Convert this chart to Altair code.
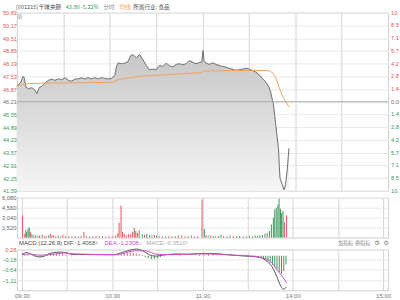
import altair as alt
import pandas as pd

# ---------------- data ----------------
PRE_CLOSE = 46.21
PRICE_TICKS = [50.83, 50.17, 49.51, 48.85, 48.19, 47.53, 46.87, 46.21,
               45.55, 44.89, 44.23, 43.57, 42.91, 42.25, 41.59]
PCT_TICKS = [10.0, 8.57, 7.14, 5.71, 4.28, 2.86, 1.43, 0.0,
             -1.43, -2.86, -4.28, -5.71, -7.14, -8.57, -10.0]
VOL_TICKS = [1520, 3040, 4560, 6080]
MACD_TICKS = [0.28, -0.18, -0.64, -1.11]
GRID_MIN = [0, 30, 60, 90, 120, 150, 180, 210, 240]
TIME_TICKS = [0, 60, 120, 180, 240]
TIME_LABELS = ["09:30", "10:30", "11:30", "14:00", "15:00"]

PRICE_MIN = [0, 2.6, 3.9, 4.7, 5.8, 7.5, 9.7, 11.8, 12.9, 14.4,
             16.1, 18.2, 20.4, 22.5, 24.6, 26.8, 29, 31.1, 33.3, 35.4,
             37.5, 39.7, 41.8, 44, 46.1, 48.3, 50.4, 52.6, 54.7, 56.8,
             59, 61.1, 63.3, 64.3, 65.4, 67.6, 69.7, 71.9, 73.6, 75.1,
             77.2, 79.3, 81.5, 83.7, 85.8, 88, 90.1, 92.2, 94.4, 96.5,
             98.6, 100.8, 103, 105.1, 107.3, 109.4, 111.5, 113.7, 115.8, 118,
             119.5, 120.3, 121, 122.3, 124.4, 126.6, 128.7, 130.8, 133, 135.1,
             137.3, 139.4, 141.6, 143.7, 145.9, 148, 150.1, 152.3, 154.4, 156.6,
             158.8, 160.9, 163, 164.1, 165.2, 165.8, 166.7, 168, 169.2, 169.7,
             170.1, 171.6, 172.7, 173.7, 174.8, 175.9]
PRICE_VAL = [47.01, 47.23, 47.53, 47.46, 46.97, 46.89, 46.94, 46.80, 46.63, 46.94,
             47.01, 47.18, 47.32, 47.39, 47.32, 47.40, 47.35, 47.46, 47.32, 47.28,
             47.39, 47.39, 47.46, 47.39, 47.46, 47.39, 47.46, 47.39, 47.46, 47.42,
             47.39, 47.42, 47.58, 48.01, 48.23, 48.18, 48.21, 48.30, 48.61, 48.66,
             48.49, 48.66, 48.39, 48.09, 47.87, 47.90, 47.87, 48.09, 48.04, 48.21,
             48.08, 48.01, 48.15, 48.18, 48.13, 48.18, 48.35, 48.26, 48.18, 48.25,
             48.26, 48.87, 48.35, 48.21, 48.15, 48.23, 48.15, 48.09, 48.04, 48.01,
             47.94, 47.90, 47.84, 47.87, 47.90, 47.95, 47.90, 47.84, 47.75, 47.63,
             47.41, 47.23, 46.97, 46.72, 46.29, 46.12, 45.51, 44.57, 43.71, 42.84,
             42.25, 41.90, 41.64, 41.90, 42.67, 43.80]

AVG_MIN = [0, 3, 8, 15, 30, 45, 62, 63.5, 66, 72, 80, 90, 100, 110, 119.5,
           120.5, 140, 155, 163, 165.5, 167.5, 169.5, 172, 174, 176]
AVG_VAL = [47.01, 47.10, 47.15, 47.17, 47.19, 47.20, 47.22, 47.30, 47.37, 47.45,
           47.53, 47.58, 47.63, 47.68, 47.72, 47.80, 47.83, 47.84, 47.82, 47.70,
           47.45, 46.97, 46.46, 46.20, 45.94]

VOL_MIN = [0.4, 1.9, 2.6, 3.2, 4.1, 4.9, 5.8, 6.7, 7.9, 9.2,
           10.7, 11.8, 13.5, 15, 16.1, 17.8, 18.9, 20, 21, 22.5,
           24.2, 25.7, 27.2, 28.9, 31.1, 33.2, 35.4, 37.5, 39.3, 41.2,
           42.9, 45.1, 47.2, 49.3, 51.5, 53.6, 55.8, 57.9, 60.1, 62.2,
           63.7, 64.6, 65.9, 66.9, 68, 69.3, 70.8, 72.3, 73.6, 74.7,
           75.7, 76.8, 77.9, 80, 81.5, 83, 84.7, 86.4, 88, 89.5,
           91.2, 93.3, 95.5, 97.6, 99.8, 101.9, 104, 106.2, 108.3, 110.5,
           112.6, 114.8, 116.9, 119.7, 121.2, 122.3, 123.8, 125.5, 127.2, 128.7,
           130.8, 132.3, 134, 136.2, 138.3, 140.5, 142.6, 144.7, 146.9, 149,
           151.2, 153.3, 155, 156.6, 158.1, 159.8, 161.5, 163, 164.5, 165.8,
           167.1, 168, 169, 170.1, 170.9, 171.8, 172.6, 173.5, 174.4, 175.9]
VOL_VAL = [3390, 600, 1150, 900, 1370, 1520, 800, 500, 300, 350,
           250, 300, 450, 250, 200, 300, 600, 350, 300, 250,
           300, 200, 450, 250, 200, 200, 250, 200, 250, 850,
           200, 200, 200, 250, 200, 250, 200, 250, 200, 300,
           700, 2280, 4900, 900, 600, 400, 500, 600, 900, 1450,
           1000, 700, 1100, 500, 400, 600, 400, 300, 400, 300,
           250, 200, 200, 250, 200, 200, 350, 300, 200, 250,
           300, 200, 250, 5820, 1300, 400, 300, 300, 250, 200,
           250, 400, 250, 200, 300, 250, 200, 250, 200, 200,
           250, 200, 300, 250, 350, 400, 600, 700, 1000, 2000,
           3040, 4300, 4560, 5060, 5930, 4400, 3800, 4100, 2370, 3390]
VOL_DIR = list("uuudddudud" "uduuuduuuu" "duuuduuduu" "uduuuduuuu" "uuuuuuuuuu"
               "duududduud" "uuduuduuud" "uuuudududu" "ddudduddud" "dudddddddd"
               "dddddddduu")

DIF_MIN = [0, 3.2, 7.5, 11.8, 15, 18.2, 24.7, 29, 33.3, 46,
           61, 65.4, 71.9, 76.1, 80.4, 84.7, 89, 93.3, 101.9, 110.5,
           119, 125.5, 140.5, 151.2, 157.7, 162, 166.2, 169.4, 171.6, 173.7, 175.9]
DIF_VAL = [0.06, 0.14, 0.02, -0.06, -0.02, 0.10, 0.16, 0.14, 0.06, 0.05,
           0.04, 0.12, 0.25, 0.30, 0.22, 0.04, -0.02, 0.02, 0.08, 0.06,
           0.10, 0.10, 0.02, -0.03, -0.07, -0.22, -0.50, -0.95, -1.32, -1.52, -1.41]
DEA_MIN = [0, 5, 12, 20, 28, 35, 60, 66, 75, 82,
           90, 100, 120, 140, 157, 162, 166, 170, 173.7, 175.9]
DEA_VAL = [0.04, 0.08, 0.02, 0.06, 0.12, 0.08, 0.05, 0.08, 0.22, 0.22,
           0.06, 0.05, 0.08, 0.03, -0.05, -0.15, -0.32, -0.68, -1.00, -1.23]
HIST_MIN = [2, 4, 8, 10, 12, 14, 17, 19, 21, 23,
            25, 27, 29, 31, 33, 36, 40, 45, 50, 55,
            62, 64, 66, 68, 70, 72, 74, 76, 78, 80,
            82, 84, 86, 88, 90, 92, 95, 100, 105, 110,
            115, 118, 121, 124, 127, 130, 135, 140, 145, 150,
            153, 155, 157, 159, 160.5, 162, 163.5, 165, 166.5, 168,
            169.5, 171, 172.5, 174, 175.5]
HIST_VAL = [0.03, 0.05, -0.04, -0.06, -0.06, -0.04, 0.04, 0.07, 0.08, 0.08,
            0.07, 0.06, 0.04, -0.02, -0.03, -0.02, 0.02, -0.01, 0.01, -0.01,
            0.02, 0.05, 0.08, 0.10, 0.12, 0.13, 0.12, 0.10, 0.07, 0.03,
            -0.06, -0.12, -0.16, -0.15, -0.12, -0.07, -0.03, 0.02, 0.03, 0.01,
            0.02, 0.03, 0.04, 0.05, 0.04, 0.02, -0.01, -0.02, -0.02, -0.03,
            -0.04, -0.06, -0.08, -0.10, -0.14, -0.19, -0.25, -0.32, -0.42, -0.52,
            -0.62, -0.74, -0.82, -0.70, -0.40]

# ---------------- style ----------------
RED = "#e0575b"
GREEN = "#3a9a5c"
ORANGE = "#f0a261"
LBL = "#6f6f6f"
CJK = "Noto Sans CJK SC"
W = 373

price_df = pd.DataFrame({"m": PRICE_MIN, "p": PRICE_VAL})
avg_df = pd.DataFrame({"m": AVG_MIN, "a": AVG_VAL})
vol_df = pd.DataFrame({"m": VOL_MIN, "v": VOL_VAL, "d": VOL_DIR})
dif_df = pd.DataFrame({"m": DIF_MIN, "v": DIF_VAL})
dea_df = pd.DataFrame({"m": DEA_MIN, "v": DEA_VAL})
hist_df = pd.DataFrame({"m": HIST_MIN, "h": HIST_VAL})
pct_df = pd.DataFrame({"t": PCT_TICKS})

xscale = alt.Scale(domain=[0, 240], nice=False, zero=False)
xgrid_axis = alt.Axis(values=GRID_MIN, labels=False, ticks=False, domain=False,
                      grid=True, gridColor="#d4d4d4", title=None)
NOVIEW = alt.ViewBackground(stroke=None, fill=None)


def X(axis=xgrid_axis):
    return alt.X("m:Q", scale=xscale, axis=axis)


def one():
    return alt.Chart(alt.Data(values=[{"k": 0}]))


def note(s, x, y, color, size=5.6, font=CJK, align="left"):
    return one().mark_text(text=s, x=x, y=y, align=align, baseline="middle",
                           color=color, fontSize=size, font=font)


# ---- header strip ----
header = alt.layer(
    note("[001215]", -1, 6, "#555555"),
    note("千味央厨", 22, 6, "#444444"),
    note("43.80  -5.22%", 49, 6, GREEN),
    note("分时", 87, 6, "#888888"),
    note("均线", 103, 6, ORANGE),
    note("所属行业: 食品", 117, 6, "#555555"),
).properties(width=W, height=12, view=NOVIEW)

# ---- price panel ----
pscale = alt.Scale(domain=[41.59, 50.83], nice=False, zero=False)
pax = alt.Axis(values=PRICE_TICKS, format=".2f", grid=True, title=None,
               gridColor="#e8e8e8", labelFontSize=5.6, labelPadding=0.5,
               labelColor={"condition": [
                   {"test": "datum.value > 46.22", "value": RED},
                   {"test": "datum.value < 46.2", "value": GREEN}],
                   "value": LBL})
area = alt.Chart(price_df).mark_area(
    color=alt.Gradient(gradient="linear",
                       stops=[alt.GradientStop(color="#c6c6c6", offset=0),
                              alt.GradientStop(color="#f5f5f5", offset=1)],
                       x1=1, x2=1, y1=0, y2=1)
).encode(x=X(), y=alt.Y("p:Q", scale=pscale, axis=pax), y2=alt.Y2Datum(41.59))
pline = alt.Chart(price_df).mark_line(color="#6e6e6e", strokeWidth=1).encode(
    x=X(), y=alt.Y("p:Q", scale=pscale, axis=pax))
aline = alt.Chart(avg_df).mark_line(color=ORANGE, strokeWidth=1).encode(
    x=X(), y=alt.Y("a:Q", scale=pscale, axis=pax))
zero_rule = one().mark_rule(color="#a9a9a9", strokeWidth=1).encode(
    y=alt.YDatum(PRE_CLOSE, scale=pscale, axis=pax))
icon = one().mark_point(filled=True, color="#c4c4c4", size=30, x=3, y=4)
price_main = alt.layer(area, pline, aline, zero_rule, icon)

# percentage labels on the right: they run to the page edge and are cut there
pct_text = alt.Chart(pct_df).transform_calculate(
    lab="format(abs(datum.t), '.2f')",
    side="datum.t > 0.001 ? 'up' : (datum.t < -0.001 ? 'down' : 'flat')",
).mark_text(align="left", baseline="middle", font="Liberation Sans", fontSize=5.8,
            x=W + 3, limit=8.3, ellipsis="\u200b").encode(
    y=alt.Y("t:Q", scale=alt.Scale(domain=[-10, 10], nice=False, zero=False), axis=None),
    text="lab:N",
    color=alt.Color("side:N", scale=alt.Scale(domain=["up", "down", "flat"],
                                              range=[RED, GREEN, LBL]), legend=None),
)
price = alt.layer(price_main, pct_text).resolve_scale(
    y="independent", color="independent").properties(width=W, height=179)

gap = note("", 0, 0, "#ffffff").properties(width=W, height=7, view=NOVIEW)

# ---- volume panel ----
vol = alt.Chart(vol_df).mark_bar(size=1).encode(
    x=X(),
    y=alt.Y("v:Q", scale=alt.Scale(domain=[0, 6080], nice=False),
            axis=alt.Axis(values=VOL_TICKS, grid=True, title=None, labelColor="#666666",
                          gridColor="#e8e8e8")),
    color=alt.Color("d:N", scale=alt.Scale(domain=["u", "d"], range=[RED, GREEN]), legend=None),
).properties(width=W, height=40)

# ---- MACD header strip ----
macd_header = alt.layer(
    note("MACD (12,26,9)", 2, 5, "#444444", font="Liberation Sans", size=6),
    note("DIF:-1.4068↑", 47, 5, "#555555", font="Liberation Sans", size=6),
    note("DEA:-1.2308↓", 88, 5, "#c84fc8", font="Liberation Sans", size=6),
    note("MACD:-0.3520↑", 130, 5, "#aaaaaa", font="Liberation Sans", size=6),
    note("加指标 换指标", 323, 5, "#888888", size=5.2),
    note("⚙", 362, 5, "#888888", font="DejaVu Sans", size=6.5, align="center"),
    note("⚙", 371, 5, "#888888", font="DejaVu Sans", size=6.5, align="center"),
).properties(width=W, height=12, view=NOVIEW)

# ---- MACD panel ----
mscale = alt.Scale(domain=[-1.57, 0.28], nice=False, zero=False)
ticks_js = "[" + ",".join(str(t) for t in TIME_TICKS) + "]"
labels_js = "[" + ",".join(f"'{s}'" for s in TIME_LABELS) + "]"
xtime_axis = alt.Axis(values=GRID_MIN, ticks=False, domain=False, grid=True,
                      gridColor="#d4d4d4", title=None, labelFlush=False,
                      labelOverlap=False, labelColor="#777777", labelFontSize=6,
                      labelPadding=2,
                      labelExpr=f"indexof({ticks_js}, datum.value) >= 0 ? "
                                f"{labels_js}[indexof({ticks_js}, datum.value)] : ''")
max_ = alt.Axis(values=MACD_TICKS, format=".2f", grid=True, title=None,
                gridColor="#e8e8e8",
                labelColor={"condition": {"test": "datum.value > 0", "value": RED},
                            "value": GREEN})
hist = alt.Chart(hist_df).mark_bar(size=1).encode(
    x=X(xtime_axis),
    y=alt.Y("h:Q", scale=mscale, axis=max_),
    y2=alt.Y2Datum(0),
    color=alt.condition("datum.h >= 0", alt.value(RED), alt.value(GREEN)),
)
dif = alt.Chart(dif_df).mark_line(color="#5a5a5a", strokeWidth=1, interpolate="monotone").encode(
    x=X(xtime_axis), y=alt.Y("v:Q", scale=mscale, axis=max_))
dea = alt.Chart(dea_df).mark_line(color="#cc4fcc", strokeWidth=1, interpolate="monotone").encode(
    x=X(xtime_axis), y=alt.Y("v:Q", scale=mscale, axis=max_))
macd = alt.layer(hist, dif, dea).properties(width=W, height=41)

chart = alt.vconcat(header, price, gap, vol, macd_header, macd,
                    spacing=0, bounds="flush").properties(
    padding={"left": 0, "top": 0, "right": 0, "bottom": 0},
    background="white",
).configure_view(
    stroke="#cfcfcf"
).configure_axis(
    labelFont="Liberation Sans", labelFontSize=5.8, ticks=False, domain=False,
    labelPadding=1, labelOverlap=False, gridWidth=1,
)

chart.save("out.html", embed_options={"renderer": "svg", "actions": False})
